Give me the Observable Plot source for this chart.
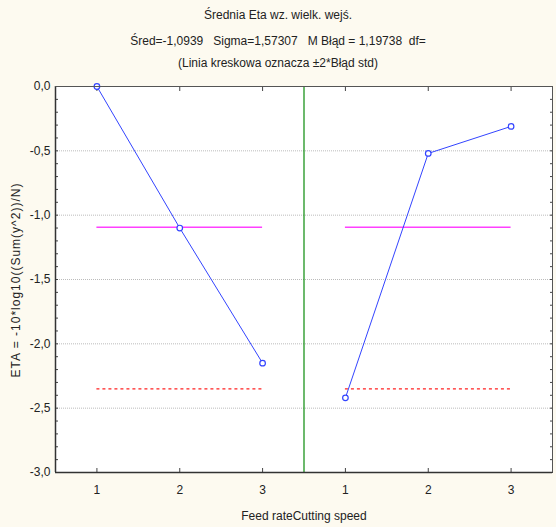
<!DOCTYPE html>
<html><head><meta charset="utf-8">
<script src="https://cdn.jsdelivr.net/npm/d3@7"></script>
<script src="https://cdn.jsdelivr.net/npm/@observablehq/plot@0.6"></script>
<style>
html,body{margin:0;padding:0;background:#fdfaf0;}
#wrap{position:relative;width:556px;height:527px;font-family:"Liberation Sans",Arial,sans-serif;color:#222;}
.t{position:absolute;left:0;width:556px;text-align:center;font-size:12px;white-space:pre;}
#ylab{position:absolute;left:16px;top:280px;transform:translate(-50%,-50%) rotate(-90deg);font-size:12px;letter-spacing:1px;white-space:nowrap;}
#xlab{position:absolute;left:304px;top:509px;transform:translateX(-50%);font-size:12px;white-space:nowrap;}
#chart{position:absolute;left:0;top:0;}
</style></head>
<body><div id="wrap">
<div id="chart"></div>
<div class="t" style="top:8px">Średnia Eta wz. wielk. wejś.</div>
<div class="t" style="top:34px">Śred=-1,0939   Sigma=1,57307   M Błąd = 1,19738  df=</div>
<div class="t" style="top:56px">(Linia kreskowa oznacza ±2*Błąd std)</div>
<div id="ylab">ETA = -10*log10((Sum(y^2))/N)</div>
<div id="xlab">Feed rateCutting speed</div>
</div>
<script>
const factors = ["Feed rate", "Cutting speed"];
const levels = [1, 2, 3];
const feedRate = [0.0, -1.10, -2.15];
const cuttingSpeed = [-2.42, -0.52, -0.31];
const grandMean = -1.0939;
const lowerBand = -2.35;
const yTicks = [0, -0.5, -1, -1.5, -2, -2.5, -3];

const series = [feedRate, cuttingSpeed];
const points = [];
series.forEach((vals, fi) => vals.forEach((v, li) => points.push({factor: factors[fi], pos: fi * 3 + levels[li], value: v})));
const refs = factors.map((f, fi) => ({factor: f, x1: fi * 3 + levels[0], x2: fi * 3 + levels[levels.length - 1], mean: grandMean, low: lowerBand}));
const xPositions = points.map(d => d.pos);
const minorTicks = d3.range(0, 31).map(i => -i / 10);
const fmt = d => d.toFixed(1).replace(".", ",");
const blank = () => "";

const chart = Plot.plot({
  width: 556, height: 527,
  marginLeft: 55, marginRight: 4, marginTop: 86, marginBottom: 55,
  style: {background: "transparent", fontFamily: "Liberation Sans, Arial, sans-serif", fontSize: "12px", color: "#222"},
  x: {domain: [0.5, 6.5]},
  y: {domain: [-3, 0]},
  marks: [
    Plot.frame({fill: "white", stroke: "none"}),
    Plot.gridY(yTicks.slice(1, -1), {stroke: "#bbb", strokeOpacity: 1, strokeDasharray: "1,1"}),
    Plot.axisY(yTicks, {anchor: "left", tickSize: 0, tickPadding: 5, tickFormat: fmt, label: null, fill: "#222"}),
    Plot.axisY(minorTicks, {anchor: "left", tickSize: -3, tickFormat: blank, fill: "none", label: null, stroke: "#444"}),
    Plot.axisY(minorTicks, {anchor: "right", tickSize: -3, tickFormat: blank, fill: "none", label: null, stroke: "#444"}),
    Plot.axisX(xPositions, {anchor: "bottom", tickSize: 0, tickPadding: 13, tickFormat: d => ((d - 1) % 3) + 1, label: null, fill: "#222"}),
    Plot.axisX(xPositions, {anchor: "bottom", tickSize: -4, tickFormat: blank, fill: "none", label: null, stroke: "#444"}),
    Plot.axisX(xPositions, {anchor: "top", tickSize: -4, tickFormat: blank, fill: "none", label: null, stroke: "#444"}),
    Plot.ruleX([3.5], {stroke: "#0a8a0a", strokeWidth: 1.2}),
    Plot.ruleY(refs, {x1: "x1", x2: "x2", y: "mean", stroke: "#ff40ff", strokeWidth: 1.5}),
    Plot.ruleY(refs, {x1: "x1", x2: "x2", y: "low", stroke: "#ff2020", strokeWidth: 1.2, strokeDasharray: "3,3"}),
    Plot.line(points, {x: "pos", y: "value", z: "factor", stroke: "#3344ff", strokeWidth: 1}),
    Plot.dot(points, {x: "pos", y: "value", r: 2.8, stroke: "#3344ff", fill: "white", strokeWidth: 1.2}),
    Plot.ruleX([0.5], {stroke: "#333", strokeWidth: 1.5}),
    Plot.ruleY([-3], {stroke: "#333", strokeWidth: 1.5}),
    Plot.ruleY([0], {stroke: "#555", strokeWidth: 1}),
    Plot.ruleX([6.5], {stroke: "#555", strokeWidth: 1})
  ]
});
document.getElementById("chart").appendChild(chart);
</script>
</body></html>
